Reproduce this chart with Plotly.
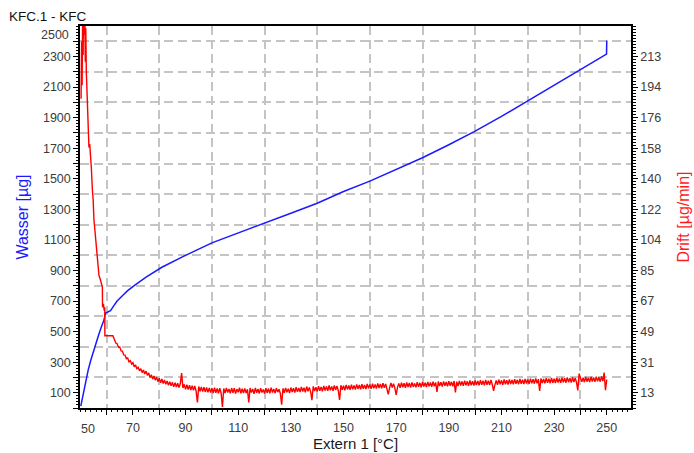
import plotly.graph_objects as go

# ---------------- data ----------------
wasser_temp = [50.2, 51.0, 52.0, 53.0, 54.0, 55.0, 56.0, 57.0, 58.0, 59.0, 59.6,
               60.5, 61.5, 62.7, 64.0, 66.0, 68.0, 71.0, 75.0, 81.0, 89.0, 100.0,
               110.0, 120.0, 130.0, 140.0, 150.0, 160.0, 170.0, 180.0, 190.0,
               200.0, 210.0, 220.0, 230.0, 240.0, 249.9, 250.0]
wasser_ug = [12, 85, 177, 248, 312, 372, 428, 480, 530, 575, 622,
             630, 637, 668, 700, 735, 768, 807, 857, 921, 991, 1081,
             1144, 1209, 1275, 1340, 1417, 1485, 1559, 1638, 1723,
             1812, 1908, 2009, 2112, 2214, 2316, 2405]

drift_temp_start = [50.3, 50.5, 50.7, 50.9, 51.1, 51.3, 51.5, 51.7, 51.9, 52.1,
                    52.3, 52.6, 52.9, 53.3, 53.6, 53.9, 54.2, 54.6, 54.9, 55.2,
                    55.5, 55.8, 56.4, 57.1, 57.7, 58.4, 58.45, 58.8, 59.1, 59.3,
                    59.35, 62.4]
drift_val_start = [188, 222, 196, 238, 214, 262, 226, 248, 210, 230,
                   204, 186, 175, 159, 161, 149, 147, 134, 128, 116,
                   110, 104, 94, 83, 80, 76, 64, 66, 62, 64,
                   47, 47]

# drift readings every 0.5 °C from 63.0 °C to 250.0 °C
drift_val_main = [
    44.6, 42.7, 42.3, 40.1, 40.4, 38.0, 37.9, 35.6, 35.5, 33.4,
    33.8, 31.5, 32.2, 30.2, 31.0, 28.6, 29.6, 27.4, 28.3, 26.2,
    27.4, 25.1, 26.6, 24.3, 26.0, 23.5, 24.9, 22.1, 23.8, 21.2,
    23.1, 20.6, 22.4, 19.7, 21.8, 19.0, 21.3, 18.6, 20.7, 18.2,
    20.1, 17.6, 19.7, 17.2, 19.3, 16.6, 19.1, 16.5, 18.8, 16.2,
    18.6, 24.8, 16.0, 18.1, 15.2, 17.9, 15.0, 17.6, 14.7, 17.3,
    14.5, 17.1, 14.1, 7.3, 16.8, 14.0, 16.5, 13.8, 16.4, 13.6,
    16.2, 13.4, 16.0, 13.2, 15.9, 12.9, 16.1, 13.1, 15.7, 12.8,
    15.8, 13.0, 4.7, 15.6, 12.9, 16.0, 13.3, 15.4, 12.7, 15.9,
    13.1, 15.8, 12.6, 15.3, 13.4, 16.1, 12.8, 15.5, 13.0, 15.7,
    12.9, 15.2, 7.4, 15.9, 13.2, 15.4, 12.5, 16.0, 13.1, 15.3,
    12.7, 15.8, 13.3, 15.1, 12.6, 15.9, 13.0, 15.6, 12.8, 16.2,
    13.2, 15.4, 12.9, 15.8, 13.5, 15.2, 12.7, 6.0, 15.7, 13.1,
    16.0, 13.4, 15.5, 12.9, 16.2, 13.6, 15.8, 13.2, 16.4, 13.7,
    15.9, 13.5, 16.6, 13.9, 16.1, 13.4, 16.8, 14.0, 16.3, 13.8,
    8.7, 16.9, 14.1, 16.4, 13.9, 17.0, 14.3, 16.6, 14.0, 17.2,
    14.4, 16.9, 14.2, 17.4, 14.6, 16.8, 14.3, 17.5, 14.8, 17.1,
    14.5, 8.8, 17.6, 14.9, 17.3, 14.6, 17.8, 15.1, 17.4, 14.8,
    17.9, 15.2, 17.5, 15.0, 18.1, 15.4, 17.7, 15.1, 18.2, 15.5,
    17.8, 15.3, 18.4, 15.7, 18.0, 15.4, 18.5, 15.8, 18.1, 15.6,
    18.7, 15.9, 18.3, 15.7, 18.8, 16.1, 18.4, 15.8, 12.2, 16.0,
    18.9, 16.2, 18.5, 15.9, 11.9, 16.3, 18.7, 16.0, 19.1, 16.4,
    18.8, 16.1, 19.2, 16.5, 18.9, 16.2, 19.3, 16.6, 18.7, 16.3,
    19.4, 16.7, 19.0, 16.4, 19.5, 16.8, 19.1, 16.5, 19.6, 16.9,
    19.2, 16.6, 19.7, 17.0, 19.3, 13.6, 19.8, 17.1, 19.4, 16.8,
    19.9, 17.2, 19.5, 16.9, 20.0, 17.3, 19.6, 17.0, 20.1, 13.3,
    19.7, 17.1, 20.2, 17.4, 19.8, 17.2, 20.3, 17.5, 19.9, 17.3,
    20.4, 17.6, 20.0, 17.4, 20.5, 17.7, 20.1, 17.5, 20.6, 17.8,
    20.2, 17.6, 20.7, 17.9, 20.3, 17.7, 20.8, 18.0, 14.3, 17.8,
    20.4, 17.9, 20.9, 18.1, 20.5, 17.8, 21.0, 18.2, 20.6, 18.0,
    21.1, 18.3, 20.7, 18.1, 21.2, 18.4, 20.8, 18.2, 21.3, 18.5,
    20.9, 18.3, 21.4, 18.6, 21.0, 18.4, 21.5, 18.7, 21.1, 18.5,
    21.6, 18.8, 21.2, 14.2, 21.7, 18.9, 21.3, 18.7, 21.8, 19.0,
    21.4, 18.8, 21.9, 19.1, 21.5, 18.9, 22.0, 19.2, 21.6, 19.0,
    22.1, 19.3, 21.7, 19.1, 22.2, 19.4, 21.8, 19.2, 22.3, 19.5,
    21.9, 19.3, 14.5, 24.5, 22.4, 19.6, 22.0, 19.4, 22.5, 19.7,
    22.1, 19.5, 22.6, 19.8, 22.2, 19.6, 22.7, 19.9, 22.3, 19.7,
    22.8, 20.0, 25.1, 14.6, 21.0,
]
DRIFT_MAIN_START, DRIFT_MAIN_STEP = 63.0, 0.5
drift_temp_main = [DRIFT_MAIN_START + DRIFT_MAIN_STEP * i for i in range(len(drift_val_main))]

drift_temp = drift_temp_start + drift_temp_main
drift_val = drift_val_start + drift_val_main

x_tick_vals = [70, 90, 110, 130, 150, 170, 190, 210, 230, 250]
x_tick_labels = [str(v) for v in x_tick_vals]
x_first_label = "50"           # drawn nudged inwards, as in the reference
x_first_val = 50
wasser_tick_vals = [100, 300, 500, 700, 900, 1100, 1300, 1500, 1700, 1900, 2100, 2300]
wasser_tick_labels = [str(v) for v in wasser_tick_vals]
wasser_top_label = "2500"      # drawn nudged downwards, as in the reference
wasser_top_val = 2500
drift_tick_labels = ["13", "31", "49", "67", "85", "104", "122", "140",
                     "158", "176", "194", "213"]

X_RANGE = [49.9, 259.2]
WASSER_RANGE = [0, 2500]
DRIFT_RANGE = [4.04, 231.3]

# right-axis labels sit level with the left-axis labels 100 ... 2300
drift_tick_pos = [DRIFT_RANGE[0] + v * (DRIFT_RANGE[1] - DRIFT_RANGE[0]) / WASSER_RANGE[1]
                  for v in wasser_tick_vals]
drift_minor_step = (DRIFT_RANGE[1] - DRIFT_RANGE[0]) / 125.0

# ---------------- style ----------------
FONT = "Arial, 'Liberation Sans', sans-serif"
TICKFONT = dict(family=FONT, size=12.5, color="#3c3c3c")
GRID = dict(showgrid=True, gridcolor="#c4c4c4", gridwidth=1.5, griddash="9px,5px")

fig = go.Figure()

fig.add_trace(go.Scatter(x=wasser_temp, y=wasser_ug, mode="lines",
                         line=dict(color="#1a1aff", width=1.5),
                         xaxis="x", yaxis="y", showlegend=False))
fig.add_trace(go.Scatter(x=drift_temp, y=drift_val, mode="lines",
                         line=dict(color="#ff0000", width=1.4),
                         xaxis="x", yaxis="y2", showlegend=False))
# helper (invisible) trace for the axes that carry the fine tick ladders
fig.add_trace(go.Scatter(x=wasser_temp, y=wasser_ug, mode="lines",
                         line=dict(color="rgba(0,0,0,0)", width=0),
                         xaxis="x3", yaxis="y3", showlegend=False, hoverinfo="skip"))

fig.update_layout(
    width=694, height=453,
    paper_bgcolor="white", plot_bgcolor="white",
    margin=dict(l=80, r=63, t=26, b=45, autoexpand=False),
    title=dict(text="KFC.1 - KFC", x=9 / 694, xanchor="left", xref="container",
               y=1 - 16 / 453, yanchor="middle", yref="container",
               font=dict(family=FONT, size=13.5, color="#111111")),
    xaxis=dict(range=X_RANGE, tickmode="array", tickvals=x_tick_vals, ticktext=x_tick_labels,
               tickfont=TICKFONT, ticks="outside", ticklen=5, tickwidth=1, tickcolor="black",
               showline=True, linecolor="black", linewidth=1.5, mirror=True,
               showgrid=False, zeroline=False, ticklabelstandoff=2, automargin=False,
               minor=dict(tick0=0, dtick=20, ticks="outside", ticklen=5, tickcolor="black", **GRID),
               title=dict(text="Extern 1 [°C]", standoff=1,
                          font=dict(family=FONT, size=15, color="#1a1a1a"))),
    yaxis=dict(range=WASSER_RANGE, tickmode="array", tickvals=wasser_tick_vals,
               ticktext=wasser_tick_labels, tickfont=TICKFONT, automargin=False,
               ticks="outside", ticklen=5, tickwidth=1, tickcolor="black",
               showline=True, linecolor="black", linewidth=1.5,
               showgrid=False, zeroline=False,
               minor=dict(tick0=0, dtick=200, ticks="outside", ticklen=5, tickcolor="black", **GRID),
               title=dict(text="Wasser [µg]", standoff=10,
                          font=dict(family=FONT, size=16, color="#1a1aff"))),
    yaxis2=dict(range=DRIFT_RANGE, overlaying="y", side="right", anchor="x",
                tickmode="array", tickvals=drift_tick_pos, ticktext=drift_tick_labels,
                tickfont=TICKFONT, ticks="outside", ticklen=5, tickwidth=1, tickcolor="black",
                showline=True, linecolor="black", linewidth=1.5, automargin=False,
                showgrid=False, zeroline=False,
                minor=dict(tick0=DRIFT_RANGE[0], dtick=drift_minor_step, ticks="outside",
                           ticklen=3, tickcolor="black", showgrid=False),
                title=dict(text="Drift [µg/min]", standoff=18,
                           font=dict(family=FONT, size=16, color="#ff1a1a"))),
    xaxis3=dict(range=X_RANGE, overlaying="x", anchor="y", side="bottom",
                tickmode="linear", tick0=0, dtick=2, ticks="outside", ticklen=3,
                tickcolor="black", showticklabels=False, showgrid=False,
                showline=False, zeroline=False, automargin=False),
    yaxis3=dict(range=WASSER_RANGE, overlaying="y", anchor="x", side="left",
                tickmode="linear", tick0=0, dtick=20, ticks="outside", ticklen=3,
                tickcolor="black", showticklabels=False, showgrid=False,
                showline=False, zeroline=False, automargin=False),
    annotations=[
        dict(text=wasser_top_label, xref="paper", x=0, yref="y", y=wasser_top_val,
             xanchor="right", yanchor="middle", xshift=-9, yshift=-9,
             showarrow=False, font=TICKFONT),
        dict(text=x_first_label, xref="x", x=x_first_val, yref="paper", y=0,
             xanchor="center", yanchor="middle", xshift=8, yshift=-21,
             showarrow=False, font=TICKFONT),
    ],
)

fig.write_html("out.html", config={"displayModeBar": False},
               post_script="document.body.style.margin='0';")
